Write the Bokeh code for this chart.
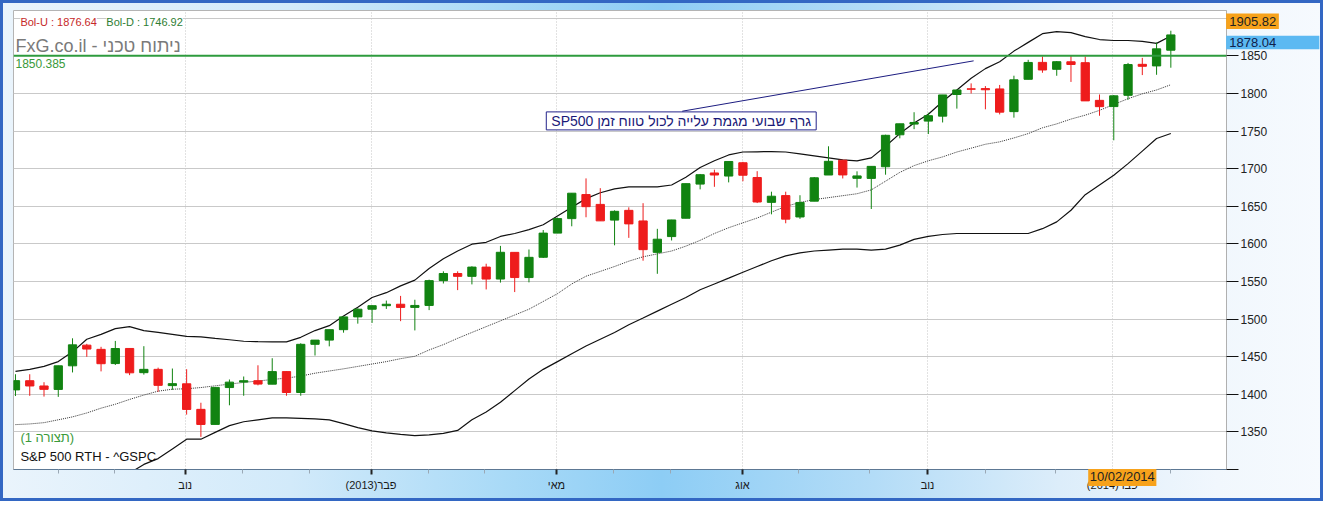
from bokeh.plotting import figure
from bokeh.models import (ColumnDataSource, Range1d, FixedTicker, Label, Span, Arrow)
from bokeh.core.properties import value
from bokeh.embed import file_html
from bokeh.resources import INLINE

# ---------------- data (weekly S&P 500 candles) ----------------
weeks = ["2012-08-13", "2012-08-20", "2012-08-27", "2012-09-03", "2012-09-10", "2012-09-17",
         "2012-09-24", "2012-10-01", "2012-10-08", "2012-10-15", "2012-10-22", "2012-10-29",
         "2012-11-05", "2012-11-12", "2012-11-19", "2012-11-26", "2012-12-03", "2012-12-10",
         "2012-12-17", "2012-12-24", "2012-12-31", "2013-01-07", "2013-01-14", "2013-01-21",
         "2013-01-28", "2013-02-04", "2013-02-11", "2013-02-18", "2013-02-25", "2013-03-04",
         "2013-03-11", "2013-03-18", "2013-03-25", "2013-04-01", "2013-04-08", "2013-04-15",
         "2013-04-22", "2013-04-29", "2013-05-06", "2013-05-13", "2013-05-20", "2013-05-27",
         "2013-06-03", "2013-06-10", "2013-06-17", "2013-06-24", "2013-07-01", "2013-07-08",
         "2013-07-15", "2013-07-22", "2013-07-29", "2013-08-05", "2013-08-12", "2013-08-19",
         "2013-08-26", "2013-09-02", "2013-09-09", "2013-09-16", "2013-09-23", "2013-09-30",
         "2013-10-07", "2013-10-14", "2013-10-21", "2013-10-28", "2013-11-04", "2013-11-11",
         "2013-11-18", "2013-11-25", "2013-12-02", "2013-12-09", "2013-12-16", "2013-12-23",
         "2013-12-30", "2014-01-06", "2014-01-13", "2014-01-20", "2014-01-27", "2014-02-03",
         "2014-02-10", "2014-02-17", "2014-02-24", "2014-03-03"]

opens = [1405.9, 1418.1, 1411.1, 1406.5, 1437.9, 1465.4, 1459.8, 1440.9, 1461.0, 1428.8,
         1433.2, 1411.6, 1414.0, 1380.0, 1360.0, 1409.0, 1416.3, 1418.1, 1413.5, 1430.2,
         1402.4, 1466.5, 1472.1, 1486.0, 1503.0, 1513.2, 1517.9, 1519.8, 1515.6, 1518.2,
         1551.2, 1560.7, 1556.9, 1569.2, 1553.3, 1588.8, 1555.3, 1582.3, 1614.4, 1633.7,
         1665.7, 1652.6, 1631.7, 1644.7, 1630.6, 1588.8, 1609.8, 1634.2, 1679.6, 1694.4,
         1690.3, 1708.0, 1688.4, 1655.3, 1664.3, 1635.9, 1656.9, 1691.7, 1711.4, 1687.3,
         1687.2, 1702.7, 1745.2, 1759.4, 1763.4, 1770.0, 1798.8, 1806.3, 1806.6, 1806.2,
         1776.0, 1819.0, 1841.5, 1832.3, 1842.3, 1841.1, 1791.0, 1782.7, 1797.7, 1838.9,
         1836.8, 1857.7]
highs = [1426.7, 1426.7, 1416.1, 1438.0, 1474.5, 1467.1, 1463.2, 1471.0, 1461.1, 1464.0,
         1435.5, 1434.3, 1433.4, 1388.8, 1409.2, 1419.7, 1423.7, 1438.6, 1448.0, 1430.7,
         1467.9, 1472.3, 1486.0, 1503.3, 1514.4, 1518.3, 1524.7, 1530.9, 1525.8, 1552.5,
         1563.6, 1563.6, 1570.3, 1573.7, 1597.4, 1588.8, 1592.6, 1618.5, 1635.0, 1667.5,
         1687.2, 1674.2, 1644.7, 1648.7, 1654.2, 1620.1, 1632.1, 1680.2, 1693.1, 1698.8,
         1709.7, 1709.2, 1696.8, 1669.5, 1669.5, 1664.8, 1689.0, 1729.9, 1711.4, 1696.6,
         1703.4, 1745.3, 1759.8, 1775.2, 1774.5, 1798.2, 1804.8, 1813.6, 1810.0, 1811.5,
         1823.8, 1844.9, 1849.4, 1843.2, 1850.8, 1849.3, 1798.8, 1798.0, 1840.8, 1847.5,
         1867.9, 1883.6]
lows = [1397.7, 1398.0, 1397.0, 1396.6, 1429.1, 1449.9, 1430.5, 1439.0, 1425.5, 1426.2,
        1403.3, 1405.9, 1373.0, 1343.4, 1360.0, 1385.4, 1398.1, 1411.9, 1413.5, 1398.1,
        1398.1, 1451.6, 1463.8, 1482.0, 1494.0, 1495.0, 1513.6, 1497.3, 1485.0, 1512.0,
        1547.4, 1538.6, 1546.2, 1539.5, 1548.6, 1536.0, 1548.9, 1581.3, 1614.4, 1623.5,
        1635.5, 1630.7, 1598.2, 1608.1, 1577.7, 1560.3, 1604.6, 1634.2, 1672.6, 1676.0,
        1681.9, 1683.4, 1654.4, 1639.4, 1627.5, 1633.4, 1656.9, 1691.7, 1687.1, 1675.0,
        1646.5, 1692.1, 1740.5, 1752.7, 1746.2, 1761.6, 1780.0, 1800.1, 1779.1, 1772.3,
        1768.0, 1819.0, 1827.7, 1823.7, 1815.5, 1790.3, 1770.5, 1737.9, 1791.8, 1824.6,
        1825.0, 1834.4]
closes = [1418.2, 1411.1, 1406.6, 1437.9, 1465.8, 1460.2, 1440.7, 1460.9, 1428.6, 1433.2,
          1411.9, 1414.2, 1379.9, 1359.9, 1409.2, 1416.2, 1418.1, 1413.6, 1430.2, 1402.4,
          1466.5, 1472.1, 1486.0, 1503.0, 1513.2, 1517.9, 1519.8, 1515.6, 1518.2, 1551.2,
          1560.7, 1556.9, 1569.2, 1553.3, 1588.9, 1555.3, 1582.2, 1614.4, 1633.7, 1667.5,
          1649.6, 1630.7, 1643.4, 1626.7, 1592.4, 1606.3, 1631.9, 1680.2, 1692.1, 1691.7,
          1709.7, 1691.4, 1655.8, 1663.5, 1633.0, 1655.2, 1688.0, 1709.9, 1691.8, 1690.5,
          1703.2, 1744.5, 1759.8, 1761.6, 1770.6, 1798.2, 1804.8, 1805.8, 1805.1, 1775.3,
          1818.3, 1841.4, 1831.4, 1842.4, 1838.7, 1790.3, 1782.6, 1797.0, 1838.6, 1836.3,
          1859.5, 1878.04]

bol_upper = [1430.6, 1433.2, 1437.1, 1443.5, 1456.5, 1473.2, 1479.7, 1487.4, 1490.0, 1484.8,
             1482.3, 1479.7, 1477.1, 1476.5, 1474.5, 1472.6, 1470.6, 1470.0, 1469.7, 1469.7,
             1475.8, 1484.8, 1491.3, 1504.2, 1515.8, 1528.7, 1535.2, 1544.2, 1551.9, 1567.4,
             1580.3, 1590.6, 1599.7, 1602.2, 1610.0, 1613.9, 1619.0, 1625.5, 1637.1, 1648.7,
             1660.3, 1668.1, 1673.2, 1675.8, 1675.8, 1675.8, 1678.4, 1688.7, 1701.6, 1710.6,
             1718.4, 1722.3, 1722.6, 1722.9, 1722.3, 1719.7, 1717.1, 1714.5, 1711.9, 1710.6,
             1714.5, 1730.0, 1746.8, 1761.0, 1772.6, 1789.4, 1804.8, 1820.3, 1833.2, 1842.3,
             1856.5, 1868.1, 1879.7, 1882.3, 1881.0, 1875.8, 1871.9, 1870.6, 1870.6, 1869.4,
             1866.8, 1876.64]
bol_mid = [1359.7, 1360.6, 1362.3, 1366.1, 1370.0, 1375.2, 1381.6, 1386.8, 1393.2, 1399.0,
           1404.2, 1406.8, 1407.4, 1409.0, 1411.3, 1413.6, 1415.8, 1417.7, 1419.7, 1421.6,
           1424.2, 1428.1, 1431.0, 1433.9, 1437.1, 1440.3, 1443.5, 1447.4, 1450.6, 1459.0,
           1466.1, 1474.5, 1482.3, 1490.0, 1497.7, 1505.5, 1513.2, 1523.5, 1533.9, 1546.8,
           1557.1, 1563.5, 1570.0, 1577.1, 1582.9, 1586.8, 1590.6, 1597.1, 1604.8, 1613.9,
           1621.6, 1628.1, 1634.5, 1642.3, 1650.0, 1655.2, 1659.0, 1661.6, 1664.2, 1666.8,
           1671.9, 1683.5, 1695.2, 1704.2, 1710.6, 1715.8, 1722.3, 1727.4, 1732.6, 1735.8,
           1741.0, 1746.8, 1754.5, 1759.7, 1766.1, 1771.3, 1777.7, 1785.5, 1793.2, 1799.7,
           1804.8, 1811.78]
bol_lower = [1287.4, 1288.7, 1288.0, 1288.7, 1283.5, 1277.1, 1282.3, 1286.1, 1295.2, 1306.8,
             1314.5, 1327.4, 1340.3, 1340.3, 1349.4, 1358.4, 1363.5, 1366.1, 1368.7, 1368.7,
             1368.1, 1367.4, 1366.1, 1361.0, 1355.8, 1351.3, 1348.7, 1346.8, 1345.1, 1346.1,
             1348.1, 1352.0, 1366.1, 1376.5, 1389.4, 1404.9, 1420.3, 1433.2, 1443.5, 1453.9,
             1464.2, 1473.2, 1482.3, 1492.6, 1501.6, 1510.7, 1519.7, 1528.7, 1539.0, 1546.8,
             1554.5, 1562.3, 1570.0, 1577.7, 1584.2, 1588.1, 1590.6, 1591.9, 1593.2, 1593.2,
             1591.9, 1593.2, 1598.4, 1606.1, 1610.0, 1612.6, 1613.9, 1613.9, 1613.9, 1613.9,
             1613.9, 1613.9, 1620.3, 1629.4, 1644.8, 1665.5, 1678.4, 1691.3, 1706.8, 1723.5,
             1740.3, 1746.92]

month_tick_pos = [11.9, 24.93, 37.93, 50.97, 63.94, 76.9]
month_tick_labels = ["נוב", "(2013)פבר", "מאי", "אוג", "נוב", "(2014)פבר"]
month_minor_pos = [3.0, 6.93, 15.93, 20.6, 28.95, 32.89, 41.9, 45.9, 54.9, 59.9, 68.0, 72.9, 81.0]
price_ticks = [1300, 1350, 1400, 1450, 1500, 1550, 1600, 1650, 1700, 1750, 1800, 1850, 1900]

support_level = 1850.385
bol_u_value = 1876.64
bol_d_value = 1746.92
last_close_label = "1878.04"
high_marker_label = "1905.82"
cursor_date = "10/02/2014"
note_text = "SP500 גרף שבועי מגמת עלייה לכול טווח זמן"

# ---------------- styling ----------------
FONT = "Liberation Sans"
GREEN = "#118311"
RED = "#ee1c1c"

idx = list(range(len(weeks)))
colors = [GREEN if c >= o else RED for o, c in zip(opens, closes)]
tops = [max(o, c) for o, c in zip(opens, closes)]
bottoms = [min(o, c) for o, c in zip(opens, closes)]
src = ColumnDataSource(dict(x=idx, o=opens, h=highs, l=lows, c=closes,
                            top=tops, bottom=bottoms, color=colors, week=weeks))

# reference-pixel helpers (used only to place annotations)
X0, DX = 15.0, 14.44       # ref x of first candle, px per week
YB, DY = 484.0, 0.7764     # ref y of 1300, px per point


def fx(px):
    return (px - X0) / DX


def fy(py):
    return 1300 + (YB - py) / DY


p = figure(width=1323, height=501, output_backend="svg", toolbar_location=None,
           x_range=Range1d(fx(13), fx(1241)), y_range=Range1d(1300, fy(10)),
           y_axis_location="right",
           min_border_left=13, min_border_right=97, min_border_top=10, min_border_bottom=32)

p.background_fill_color = "white"
p.border_fill_color = None
p.outline_line_color = "#b4b4b4"
p.styles = {
    "background": "linear-gradient(90deg, #eaf4fc 0%, #d2eafa 22%, #a9daf7 38%, #8dcdf5 50%, "
                  "#b3dcf7 66%, #dcedfa 80%, #f1f7fd 92%, #f6fafe 100%)",
    "box-shadow": "inset 0 0 0 3px #3367c3",
}

# grids
p.ygrid.ticker = FixedTicker(ticks=price_ticks)
p.ygrid.grid_line_color = "#c9c9c9"
p.xgrid.ticker = FixedTicker(ticks=month_tick_pos)
p.xgrid.grid_line_color = "#c4c4c4"
p.xgrid.grid_line_dash = "1 2"

# y axis (right)
yax = p.yaxis[0]
yax.ticker = FixedTicker(ticks=price_ticks)
yax.major_label_overrides = {1300: "", 1900: ""}
yax.axis_line_color = "#b0b0b0"
yax.major_tick_line_color = "#111111"
yax.major_tick_out = 12
yax.major_tick_in = 0
yax.minor_tick_line_color = None
yax.major_label_standoff = 2
yax.major_label_text_font = FONT
yax.major_label_text_font_size = "12px"
yax.major_label_text_color = "#222222"

# x axis (bottom)
xax = p.xaxis[0]
xax.ticker = FixedTicker(ticks=month_tick_pos, minor_ticks=month_minor_pos)
xax.major_label_overrides = {pos: lab for pos, lab in zip(month_tick_pos, month_tick_labels)}
xax.axis_line_color = "#5d7894"
xax.major_tick_line_color = "#222222"
xax.major_tick_line_width = 2
xax.major_tick_out = 5
xax.major_tick_in = 0
xax.minor_tick_line_color = "#9aa8b5"
xax.minor_tick_out = 4
xax.minor_tick_in = 0
xax.major_label_standoff = 4
xax.major_label_text_font = FONT
xax.major_label_text_font_size = "11px"
xax.major_label_text_color = "#1a1a1a"

# Bollinger bands
p.line(idx, bol_upper, line_color="#111111", line_width=1.2)
p.line(idx, bol_lower, line_color="#111111", line_width=1.2)
p.line(idx, bol_mid, line_color="#333333", line_width=1, line_dash="1 1")

# support line
p.add_layout(Span(location=support_level, dimension="width", line_color="#2e9b3e", line_width=2))

# candles
p.segment(x0="x", y0="h", x1="x", y1="l", line_color="color", line_width=1, source=src)
p.vbar(x="x", width=0.58, top="top", bottom="bottom", fill_color="color",
       line_color="color", line_width=1, source=src)

# annotation line + boxed note
p.add_layout(Arrow(x_start=fx(690), y_start=fy(114), x_end=fx(985), y_end=fy(62),
                   end=None, line_color="#1c1c80", line_width=1))
p.add_layout(Label(x=fx(689), y=fy(124), text=note_text,
                   text_align="center", text_baseline="middle", text_font=FONT,
                   text_font_size="14px", text_color="#1a1a78",
                   background_fill_color="white", border_line_color="#23238a",
                   border_line_width=1, padding=dict(left=5, right=5, top=1, bottom=1)))

# top-left legend texts
p.add_layout(Label(x=fx(20), y=fy(21.5), text="Bol-U : %.2f" % bol_u_value,
                   text_baseline="middle", text_font=FONT, text_font_size="11px",
                   text_color="#c62828", background_fill_color="white"))
p.add_layout(Label(x=fx(107), y=fy(21.5), text="Bol-D : %.2f" % bol_d_value,
                   text_baseline="middle", text_font=FONT, text_font_size="11px",
                   text_color="#2e7d32", background_fill_color="white"))
p.add_layout(Label(x=fx(15), y=fy(47), text="FxG.co.il - ניתוח טכני",
                   text_baseline="middle", text_font=FONT, text_font_size="18px",
                   text_color="#7a7a7a"))
p.add_layout(Label(x=fx(15), y=fy(65), text="%.3f" % support_level,
                   text_baseline="middle", text_font=FONT, text_font_size="12px",
                   text_color="#3a9a3a"))

# bottom-left texts
p.add_layout(Label(x=fx(20), y=fy(451), text="(1 תצורה)",
                   text_baseline="middle", text_font=FONT, text_font_size="13px",
                   text_color="#3a9a3a"))
p.add_layout(Label(x=fx(20), y=fy(471), text="S&P 500 RTH - ^GSPC",
                   text_baseline="middle", text_font=FONT, text_font_size="13px",
                   text_color="#111111"))

# price markers on the right axis and the cursor date on the time axis
# (overlay-level glyphs anchored just inside the frame, so they are drawn over the axes)
mk = ColumnDataSource(dict(
    left=[fx(1240.6), fx(1240.6), fx(1101)],
    right=[fx(1294), fx(1335), fx(1170)],
    top=[fy(13), fy(36), fy(483.6)],
    bottom=[fy(29), fy(50), fy(501)],
    color=["#f7a21b", "#5cb9f2", "#f7a21b"],
))
p.quad(left="left", right="right", top="top", bottom="bottom", fill_color="color",
       line_color=None, source=mk, level="overlay")
p.text(x=[fx(1240.8), fx(1240.8)], y=[fy(21), fy(43)], text=[high_marker_label, last_close_label],
       x_offset=3, text_align="left", text_baseline="middle", text_font=value(FONT),
       text_font_size="13px", text_color=["#222222", "#10204a"], level="overlay")
p.text(x=[fx(1135.5)], y=[fy(483.8)], text=[cursor_date], text_align="center",
       text_baseline="top", text_font=value(FONT), text_font_size="13px",
       text_color="#222222", level="overlay")

open("out.html", "w").write(file_html(p, INLINE))
